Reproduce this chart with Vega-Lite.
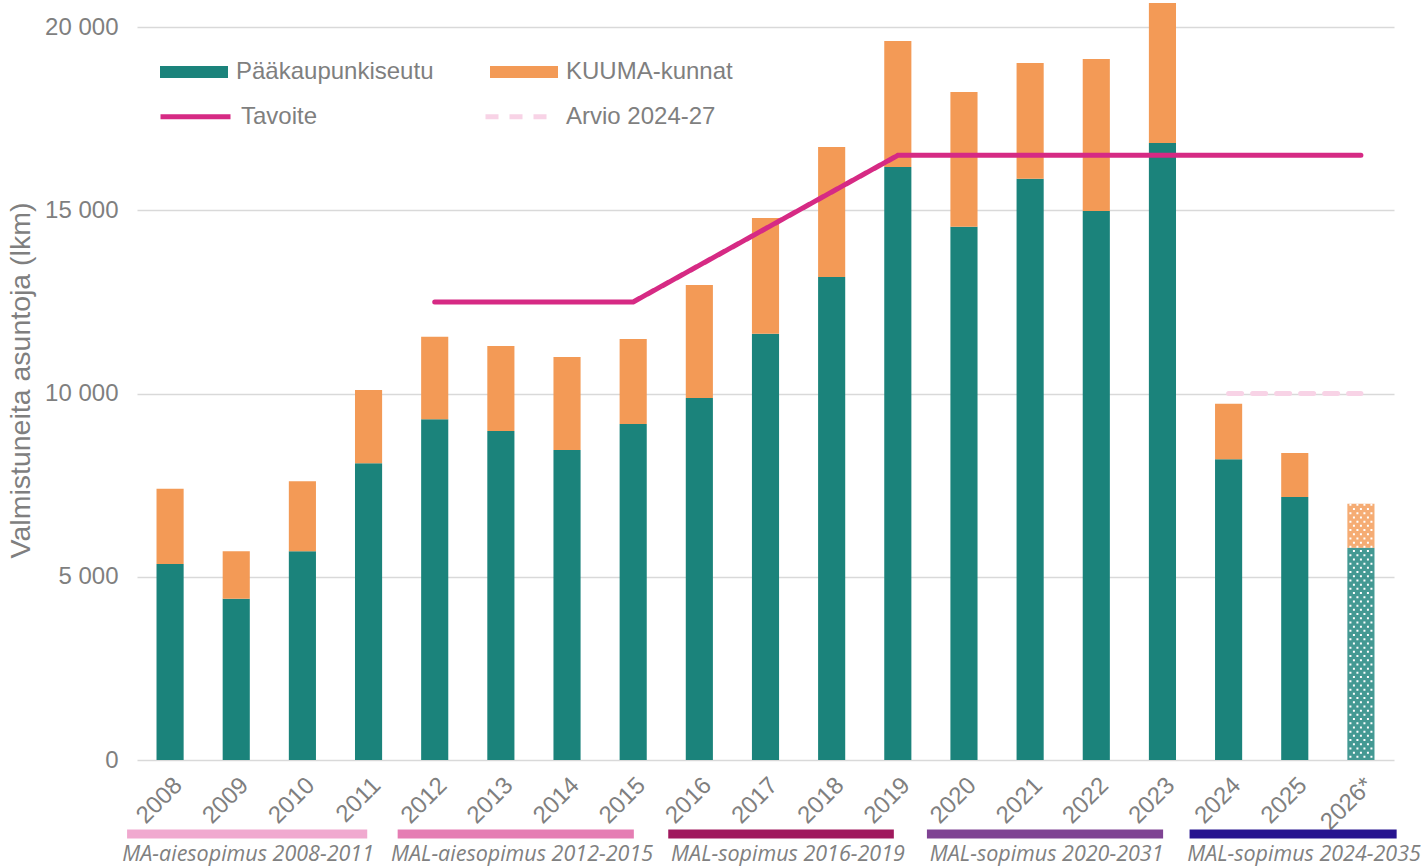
{
  "$schema": "https://vega.github.io/schema/vega-lite/v6.json",
  "width": 1257,
  "height": 760,
  "autosize": {"type": "none"},
  "padding": {"left": 137, "top": 0, "right": 27, "bottom": 108},
  "background": "white",
  "config": {
    "view": {"stroke": null},
    "font": "Liberation Sans"
  },
  "datasets": {
    "bars": [
      {"year": "2008", "series": "Pääkaupunkiseutu", "value": 5350},
      {"year": "2008", "series": "KUUMA-kunnat", "value": 2050},
      {"year": "2009", "series": "Pääkaupunkiseutu", "value": 4400},
      {"year": "2009", "series": "KUUMA-kunnat", "value": 1300},
      {"year": "2010", "series": "Pääkaupunkiseutu", "value": 5700},
      {"year": "2010", "series": "KUUMA-kunnat", "value": 1910},
      {"year": "2011", "series": "Pääkaupunkiseutu", "value": 8100},
      {"year": "2011", "series": "KUUMA-kunnat", "value": 2000},
      {"year": "2012", "series": "Pääkaupunkiseutu", "value": 9300},
      {"year": "2012", "series": "KUUMA-kunnat", "value": 2250},
      {"year": "2013", "series": "Pääkaupunkiseutu", "value": 8980},
      {"year": "2013", "series": "KUUMA-kunnat", "value": 2320},
      {"year": "2014", "series": "Pääkaupunkiseutu", "value": 8460},
      {"year": "2014", "series": "KUUMA-kunnat", "value": 2540},
      {"year": "2015", "series": "Pääkaupunkiseutu", "value": 9170},
      {"year": "2015", "series": "KUUMA-kunnat", "value": 2320},
      {"year": "2016", "series": "Pääkaupunkiseutu", "value": 9880},
      {"year": "2016", "series": "KUUMA-kunnat", "value": 3080},
      {"year": "2017", "series": "Pääkaupunkiseutu", "value": 11630},
      {"year": "2017", "series": "KUUMA-kunnat", "value": 3160},
      {"year": "2018", "series": "Pääkaupunkiseutu", "value": 13180},
      {"year": "2018", "series": "KUUMA-kunnat", "value": 3550},
      {"year": "2019", "series": "Pääkaupunkiseutu", "value": 16180},
      {"year": "2019", "series": "KUUMA-kunnat", "value": 3440},
      {"year": "2020", "series": "Pääkaupunkiseutu", "value": 14550},
      {"year": "2020", "series": "KUUMA-kunnat", "value": 3680},
      {"year": "2021", "series": "Pääkaupunkiseutu", "value": 15860},
      {"year": "2021", "series": "KUUMA-kunnat", "value": 3160},
      {"year": "2022", "series": "Pääkaupunkiseutu", "value": 14980},
      {"year": "2022", "series": "KUUMA-kunnat", "value": 4150},
      {"year": "2023", "series": "Pääkaupunkiseutu", "value": 16840},
      {"year": "2023", "series": "KUUMA-kunnat", "value": 3820},
      {"year": "2024", "series": "Pääkaupunkiseutu", "value": 8210},
      {"year": "2024", "series": "KUUMA-kunnat", "value": 1510},
      {"year": "2025", "series": "Pääkaupunkiseutu", "value": 7180},
      {"year": "2025", "series": "KUUMA-kunnat", "value": 1200},
      {"year": "2026*", "series": "Pääkaupunkiseutu", "value": 5790},
      {"year": "2026*", "series": "KUUMA-kunnat", "value": 1200}
    ],
    "lines": [
      {"year": "2012", "name": "Tavoite", "value": 12500},
      {"year": "2013", "name": "Tavoite", "value": 12500},
      {"year": "2014", "name": "Tavoite", "value": 12500},
      {"year": "2015", "name": "Tavoite", "value": 12500},
      {"year": "2017", "name": "Tavoite", "value": 14500},
      {"year": "2019", "name": "Tavoite", "value": 16500},
      {"year": "2020", "name": "Tavoite", "value": 16500},
      {"year": "2021", "name": "Tavoite", "value": 16500},
      {"year": "2022", "name": "Tavoite", "value": 16500},
      {"year": "2023", "name": "Tavoite", "value": 16500},
      {"year": "2024", "name": "Tavoite", "value": 16500},
      {"year": "2025", "name": "Tavoite", "value": 16500},
      {"year": "2026*", "name": "Tavoite", "value": 16500},
      {"year": "2024", "name": "Arvio 2024-27", "value": 10000},
      {"year": "2025", "name": "Arvio 2024-27", "value": 10000},
      {"year": "2026*", "name": "Arvio 2024-27", "value": 10000}
    ],
    "periods": [
      {"label": "MA-aiesopimus 2008-2011", "start": 2007.35, "end": 2010.98, "mid": 2009.18},
      {"label": "MAL-aiesopimus 2012-2015", "start": 2011.44, "end": 2015.01, "mid": 2013.32},
      {"label": "MAL-sopimus 2016-2019", "start": 2015.53, "end": 2018.94, "mid": 2017.34},
      {"label": "MAL-sopimus 2020-2031", "start": 2019.44, "end": 2023.01, "mid": 2021.25},
      {"label": "MAL-sopimus 2024-2035", "start": 2023.41, "end": 2026.54, "mid": 2025.14}
    ]
  },
  "resolve": {"scale": {"x": "independent", "y": "independent", "color": "independent"}},
  "layer": [
    {
      "layer": [
        {
          "data": {"name": "bars"},
          "mark": {"type": "bar"},
          "encoding": {
            "x": {
              "field": "year", "type": "ordinal",
              "scale": {"domain": ["2008","2009","2010","2011","2012","2013","2014","2015","2016","2017","2018","2019","2020","2021","2022","2023","2024","2025","2026*"], "paddingInner": 0.59, "paddingOuter": 0.295},
              "axis": {"title": null, "labelAngle": -45, "labelAlign": "right", "labelBaseline": "top", "labelFontSize": 24, "labelColor": "#7f7f7f", "ticks": false, "domain": false, "labelPadding": 13, "grid": false}
            },
            "y": {
              "field": "value", "type": "quantitative", "stack": "zero",
              "scale": {"domain": [0, 20740], "nice": false},
              "axis": {
                "values": [0, 5000, 10000, 15000, 20000],
                "labelExpr": "replace(format(datum.value, ','), ',', ' ')",
                "labelFontSize": 24, "labelColor": "#7f7f7f", "ticks": false, "domain": false,
                "labelPadding": 19, "gridColor": "#d9d9d9", "gridWidth": 1.5,
                "title": "Valmistuneita asuntoja (lkm)", "titleFontSize": 28.5, "titleFontWeight": "normal",
                "titleColor": "#7f7f7f", "titlePadding": 9
              }
            },
            "color": {
              "field": "series", "type": "nominal",
              "scale": {"domain": ["Pääkaupunkiseutu", "KUUMA-kunnat"], "range": ["#1b837b", "#f39a56"]},
              "legend": {
                "orient": "none", "legendX": 23, "legendY": 38, "direction": "horizontal", "columns": 2,
                "title": null, "symbolType": "M-1,-0.176H1V0.176H-1Z", "symbolSize": 4624, "symbolStrokeWidth": 0,
                "labelFontSize": 24, "labelColor": "#7f7f7f", "labelOffset": 8, "columnPadding": 56, "labelLimit": 400
              }
            },
            "order": {"field": "series", "sort": "descending"},
            "opacity": {"condition": {"test": "datum.year === '2026*'", "value": 0.82}, "value": 1}
          }
        },
        {
          "data": {"name": "bars"},
          "transform": [{"filter": "datum.year === '2026*'"}],
          "mark": {"type": "rule", "color": "white", "strokeWidth": 2, "strokeDash": [2, 6.4], "strokeDashOffset": 0, "xOffset": -10.5},
          "encoding": {"x": {"field": "year", "type": "ordinal"}, "y": {"aggregate": "sum", "field": "value", "type": "quantitative", "scale": {"domain": [0, 20740], "nice": false}}, "y2": {"datum": 0}}
        },
        {
          "data": {"name": "bars"},
          "transform": [{"filter": "datum.year === '2026*'"}],
          "mark": {"type": "rule", "color": "white", "strokeWidth": 2, "strokeDash": [2, 6.4], "strokeDashOffset": 0, "xOffset": -3.5},
          "encoding": {"x": {"field": "year", "type": "ordinal"}, "y": {"aggregate": "sum", "field": "value", "type": "quantitative", "scale": {"domain": [0, 20740], "nice": false}}, "y2": {"datum": 0}}
        },
        {
          "data": {"name": "bars"},
          "transform": [{"filter": "datum.year === '2026*'"}],
          "mark": {"type": "rule", "color": "white", "strokeWidth": 2, "strokeDash": [2, 6.4], "strokeDashOffset": 0, "xOffset": 3.5},
          "encoding": {"x": {"field": "year", "type": "ordinal"}, "y": {"aggregate": "sum", "field": "value", "type": "quantitative", "scale": {"domain": [0, 20740], "nice": false}}, "y2": {"datum": 0}}
        },
        {
          "data": {"name": "bars"},
          "transform": [{"filter": "datum.year === '2026*'"}],
          "mark": {"type": "rule", "color": "white", "strokeWidth": 2, "strokeDash": [2, 6.4], "strokeDashOffset": 0, "xOffset": 10.5},
          "encoding": {"x": {"field": "year", "type": "ordinal"}, "y": {"aggregate": "sum", "field": "value", "type": "quantitative", "scale": {"domain": [0, 20740], "nice": false}}, "y2": {"datum": 0}}
        },
        {
          "data": {"name": "bars"},
          "transform": [{"filter": "datum.year === '2026*'"}],
          "mark": {"type": "rule", "color": "white", "strokeWidth": 2, "strokeDash": [2, 6.4], "strokeDashOffset": 4.2, "xOffset": -7},
          "encoding": {"x": {"field": "year", "type": "ordinal"}, "y": {"aggregate": "sum", "field": "value", "type": "quantitative", "scale": {"domain": [0, 20740], "nice": false}}, "y2": {"datum": 0}}
        },
        {
          "data": {"name": "bars"},
          "transform": [{"filter": "datum.year === '2026*'"}],
          "mark": {"type": "rule", "color": "white", "strokeWidth": 2, "strokeDash": [2, 6.4], "strokeDashOffset": 4.2, "xOffset": 0},
          "encoding": {"x": {"field": "year", "type": "ordinal"}, "y": {"aggregate": "sum", "field": "value", "type": "quantitative", "scale": {"domain": [0, 20740], "nice": false}}, "y2": {"datum": 0}}
        },
        {
          "data": {"name": "bars"},
          "transform": [{"filter": "datum.year === '2026*'"}],
          "mark": {"type": "rule", "color": "white", "strokeWidth": 2, "strokeDash": [2, 6.4], "strokeDashOffset": 4.2, "xOffset": 7},
          "encoding": {"x": {"field": "year", "type": "ordinal"}, "y": {"aggregate": "sum", "field": "value", "type": "quantitative", "scale": {"domain": [0, 20740], "nice": false}}, "y2": {"datum": 0}}
        },
        {
          "data": {"name": "lines"},
          "mark": {"type": "line", "strokeWidth": 5, "strokeCap": "round"},
          "encoding": {
            "x": {"field": "year", "type": "ordinal"},
            "y": {"field": "value", "type": "quantitative", "scale": {"domain": [0, 20740], "nice": false}},
            "stroke": {
              "field": "name", "type": "nominal",
              "scale": {"domain": ["Tavoite", "Arvio 2024-27"], "range": ["#d62a84", "#f8d3e6"]},
              "legend": {
                "orient": "none", "legendX": 21, "legendY": 79, "direction": "horizontal", "columns": 2,
                "title": null, "symbolType": "stroke", "symbolSize": 4900, "symbolStrokeWidth": 5,
                "labelFontSize": 24, "labelColor": "#7f7f7f", "labelOffset": 8, "columnPadding": 157, "labelLimit": 400
              }
            },
            "strokeDash": {
              "field": "name", "type": "nominal",
              "scale": {"domain": ["Tavoite", "Arvio 2024-27"], "range": [[1, 0], [13, 11]]},
              "legend": {
                "orient": "none", "legendX": 21, "legendY": 79, "direction": "horizontal", "columns": 2,
                "title": null, "symbolType": "stroke", "symbolSize": 4900, "symbolStrokeWidth": 5,
                "labelFontSize": 24, "labelColor": "#7f7f7f", "labelOffset": 8, "columnPadding": 157, "labelLimit": 400
              }
            }
          }
        }
      ]
    },
    {
      "data": {"name": "periods"},
      "mark": {"type": "rule", "strokeWidth": 9},
      "encoding": {
        "x": {"field": "start", "type": "quantitative", "scale": {"domain": [2007.5, 2026.5], "nice": false, "zero": false}, "axis": null},
        "x2": {"field": "end"},
        "y": {"datum": -2020, "type": "quantitative", "scale": {"domain": [0, 20740], "nice": false}, "axis": null},
        "color": {
          "field": "label", "type": "nominal",
          "scale": {"domain": ["MA-aiesopimus 2008-2011", "MAL-aiesopimus 2012-2015", "MAL-sopimus 2016-2019", "MAL-sopimus 2020-2031", "MAL-sopimus 2024-2035"], "range": ["#f0a9cf", "#e57db3", "#a0195d", "#7f4393", "#27148f"]},
          "legend": null
        }
      }
    },
    {
      "data": {"name": "periods"},
      "mark": {"type": "text", "font": "Open Sans", "fontStyle": "italic", "fontSize": 21.5, "color": "#808080", "baseline": "middle", "align": "center"},
      "encoding": {
        "x": {"field": "mid", "type": "quantitative", "scale": {"domain": [2007.5, 2026.5], "nice": false, "zero": false}, "axis": null},
        "y": {"datum": -2600, "type": "quantitative", "scale": {"domain": [0, 20740], "nice": false}, "axis": null},
        "text": {"field": "label"}
      }
    }
  ]
}
